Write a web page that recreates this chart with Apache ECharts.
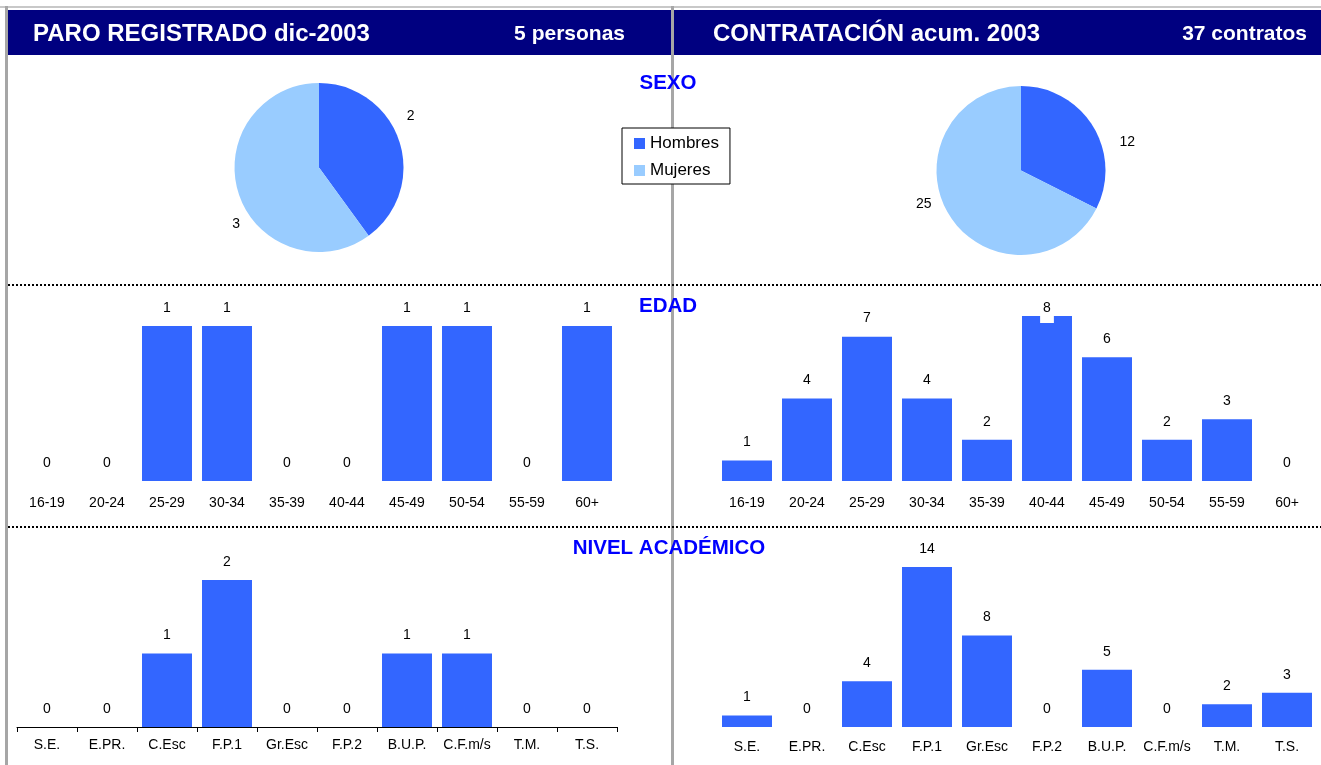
<!DOCTYPE html>
<html>
<head>
<meta charset="utf-8">
<script src="https://cdn.jsdelivr.net/npm/echarts@6/dist/echarts.min.js"></script>
<style>
  html, body { margin: 0; padding: 0; background: #fff; }
  #chart { width: 1321px; height: 765px; }
</style>
</head>
<body>
<div id="chart"></div>
<script>
// datos
const sexoCats = ['Hombres', 'Mujeres'];
const paroSexo = [2, 3];
const contratoSexo = [12, 25];

const edadCats = ['16-19', '20-24', '25-29', '30-34', '35-39', '40-44', '45-49', '50-54', '55-59', '60+'];
const paroEdad = [0, 0, 1, 1, 0, 0, 1, 1, 0, 1];
const contratoEdad = [1, 4, 7, 4, 2, 8, 6, 2, 3, 0];

const nivelCats = ['S.E.', 'E.PR.', 'C.Esc', 'F.P.1', 'Gr.Esc', 'F.P.2', 'B.U.P.', 'C.F.m/s', 'T.M.', 'T.S.'];
const paroNivel = [0, 0, 1, 2, 0, 0, 1, 1, 0, 0];
const contratoNivel = [1, 0, 4, 14, 8, 0, 5, 0, 2, 3];

const FONT = 'Arial, "Liberation Sans", sans-serif';
const AZUL = '#3366FF';
const CELESTE = '#99CCFF';
const GRIS = '#A6A6A6';

const chart = echarts.init(document.getElementById('chart'));

// grids: 0 edad paro, 1 edad contratos, 2 nivel paro, 3 nivel contratos
const grids = [
  { left: 17, top: 326, width: 600, height: 155 },
  { left: 717, top: 316, width: 600, height: 165 },
  { left: 17, top: 580, width: 600, height: 147 },
  { left: 717, top: 567, width: 600, height: 160 },
];

const makeX = (idx, cats, margin, showLine) => ({
  type: 'category',
  gridIndex: idx,
  data: cats,
  axisLine: { show: showLine, lineStyle: { color: '#000', width: 1 } },
  axisTick: { show: showLine, length: 5, lineStyle: { color: '#000' } },
  axisLabel: { color: '#000', fontSize: 14, fontFamily: FONT, margin: margin, interval: 0 },
  splitLine: { show: false },
});

const makeY = (idx, max) => ({
  type: 'value',
  gridIndex: idx,
  min: 0,
  max: max,
  show: false,
});

const barLabel = {
  show: true,
  position: 'top',
  distance: 11,
  color: '#000',
  fontSize: 14,
  fontFamily: FONT,
};

const makeBar = (idx, data) => ({
  type: 'bar',
  xAxisIndex: idx,
  yAxisIndex: idx,
  data: data,
  barWidth: 50,
  itemStyle: { color: AZUL },
  label: barLabel,
  silent: true,
  animation: false,
});

// el 8 de edad tapa el borde de su barra como en el original
const contratoEdadData = contratoEdad.map((v) =>
  v === Math.max(...contratoEdad)
    ? { value: v, label: { distance: -7, backgroundColor: '#fff', padding: [0, 3, 8, 3] } }
    : v
);

// desplazamiento de las etiquetas de la tarta (colocación tipo Excel)
const makePie = (center, data, shifts) => ({
  type: 'pie',
  center: center,
  radius: 84.5,
  startAngle: 90,
  clockwise: true,
  silent: true,
  animation: false,
  data: sexoCats.map((name, i) => ({
    name: name,
    value: data[i],
    itemStyle: { color: i === 0 ? AZUL : CELESTE },
  })),
  label: {
    show: true,
    position: 'outside',
    formatter: '{c}',
    color: '#000',
    fontSize: 14,
    fontFamily: FONT,
  },
  labelLine: { show: false, length: 10, length2: 0 },
  labelLayout: (p) => ({ dx: shifts[p.dataIndex][0], dy: shifts[p.dataIndex][1] }),
});

const txt = (x, y, text, size, color, align) => ({
  type: 'text',
  x: x,
  y: y,
  z: 10,
  style: {
    text: text,
    fill: color,
    font: 'bold ' + size + 'px ' + FONT,
    align: align,
    verticalAlign: 'middle',
  },
});

const option = {
  animation: false,
  grid: grids,
  xAxis: [
    makeX(0, edadCats, 15, false),
    makeX(1, edadCats, 15, false),
    makeX(2, nivelCats, 11, true),
    makeX(3, nivelCats, 13, false),
  ],
  yAxis: [makeY(0, 1), makeY(1, 8), makeY(2, 2), makeY(3, 14)],
  legend: {
    data: sexoCats,
    orient: 'vertical',
    left: 622,
    top: 128,
    padding: [7, 11, 5, 12],
    itemGap: 10,
    itemWidth: 11,
    itemHeight: 11,
    icon: 'rect',
    borderColor: '#000',
    borderWidth: 1,
    backgroundColor: '#fff',
    selectedMode: false,
    textStyle: { color: '#000', fontSize: 17, fontFamily: FONT },
  },
  series: [
    makePie([319, 167.5], paroSexo, [[-7, -22], [16, 27]]),
    makePie([1021, 170.5], contratoSexo, [[13, 21], [-4, -16]]),
    makeBar(0, paroEdad),
    makeBar(1, contratoEdadData),
    makeBar(2, paroNivel),
    makeBar(3, contratoNivel),
  ],
  graphic: [
    // marco gris
    { type: 'rect', shape: { x: 0, y: 6, width: 1321, height: 2 }, style: { fill: '#C8C8C8' }, z: 1 },
    // cabeceras
    { type: 'rect', shape: { x: 8, y: 10, width: 1313, height: 45 }, style: { fill: '#000080' }, z: 1 },
    { type: 'rect', shape: { x: 5, y: 6, width: 3, height: 759 }, style: { fill: GRIS }, z: 2 },
    { type: 'rect', shape: { x: 671, y: 6, width: 3, height: 759 }, style: { fill: GRIS }, z: 2 },
    // separadores punteados
    { type: 'line', shape: { x1: 8, y1: 285, x2: 1321, y2: 285 }, style: { stroke: '#000', lineWidth: 2, lineDash: [2, 2] }, z: 3 },
    { type: 'line', shape: { x1: 8, y1: 527, x2: 1321, y2: 527 }, style: { stroke: '#000', lineWidth: 2, lineDash: [2, 2] }, z: 3 },
    txt(33, 34, 'PARO REGISTRADO dic-2003', 24, '#fff', 'left'),
    txt(625, 34, '5 personas', 21, '#fff', 'right'),
    txt(713, 34, 'CONTRATACIÓN acum. 2003', 24, '#fff', 'left'),
    txt(1307, 34, '37 contratos', 21, '#fff', 'right'),
    txt(668, 83, 'SEXO', 20.5, '#0000FF', 'center'),
    txt(668, 306, 'EDAD', 20.5, '#0000FF', 'center'),
    txt(669, 548, 'NIVEL ACADÉMICO', 20.5, '#0000FF', 'center'),
  ],
};

chart.setOption(option);
</script>
</body>
</html>
